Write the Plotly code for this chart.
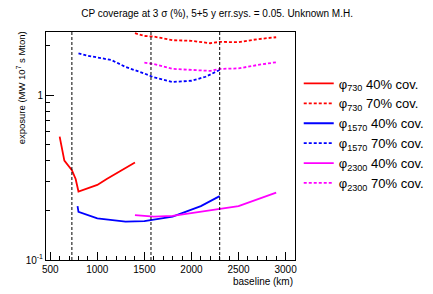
import plotly.graph_objects as go

# ---- data ----
red40_x = [600, 650, 730, 770, 800, 1000, 1100, 1200, 1300, 1400]
red40_y = [0.56, 0.40, 0.35, 0.31, 0.26, 0.285, 0.31, 0.335, 0.362, 0.39]
red70_x = [1400, 1500, 1600, 1800, 2000, 2200, 2300, 2500, 2700, 2900]
red70_y = [2.37, 2.28, 2.26, 2.15, 2.13, 2.06, 2.10, 2.09, 2.18, 2.24]
blue40_x = [790, 800, 1000, 1300, 1500, 1600, 1800, 2100, 2300]
blue40_y = [0.212, 0.196, 0.179, 0.171, 0.172, 0.176, 0.183, 0.212, 0.244]
blue70_x = [800, 900, 1150, 1300, 1500, 1600, 1800, 2000, 2150, 2300]
blue70_y = [1.79, 1.73, 1.63, 1.48, 1.35, 1.28, 1.20, 1.22, 1.29, 1.42]
mag40_x = [1400, 1600, 1800, 2100, 2500, 2900]
mag40_y = [0.187, 0.183, 0.185, 0.196, 0.212, 0.256]
mag70_x = [1500, 1600, 1800, 2000, 2200, 2300, 2500, 2700, 2900]
mag70_y = [1.57, 1.54, 1.44, 1.42, 1.40, 1.44, 1.45, 1.52, 1.58]
vlines_x = [730, 1570, 2300]

x_major = [500, 1000, 1500, 2000, 2500, 3000]
x_minor = [v for v in range(500, 3101, 100)]
y_major = [0.1, 1]
y_major_text = ["10<sup>-1</sup>", "1"]
y_minor = [0.2, 0.3, 0.4, 0.5, 0.6, 0.7, 0.8, 0.9, 2]

series = [
    (red40_x, red40_y, "#ff0000", "solid", "φ<sub>730</sub> 40% cov."),
    (red70_x, red70_y, "#ff0000", "3px,2px", "φ<sub>730</sub> 70% cov."),
    (blue40_x, blue40_y, "#0000ff", "solid", "φ<sub>1570</sub> 40% cov."),
    (blue70_x, blue70_y, "#0000ff", "3px,2px", "φ<sub>1570</sub> 70% cov."),
    (mag40_x, mag40_y, "#ff00ff", "solid", "φ<sub>2300</sub> 40% cov."),
    (mag70_x, mag70_y, "#ff00ff", "3px,2px", "φ<sub>2300</sub> 70% cov."),
]

fig = go.Figure()
for xs, ys, col, dash, name in series:
    fig.add_trace(go.Scatter(x=xs, y=ys, mode="lines", name=name,
                             line=dict(color=col, width=1.8, dash=dash)))

for vx in vlines_x:
    fig.add_shape(type="line", x0=vx, x1=vx, y0=0, y1=1, xref="x", yref="paper",
                  line=dict(color="black", width=1, dash="3px,2px"))

font = "Liberation Sans, Arial, sans-serif"
fig.update_layout(
    width=433, height=294,
    margin=dict(l=38, r=139, t=24, b=42),
    paper_bgcolor="white", plot_bgcolor="white",
    font=dict(family=font, color="black", size=10),
    title=dict(text="CP coverage at 3 σ (%), 5+5 y err.sys. = 0.05. Unknown M.H.",
               x=0.483, xref="container", xanchor="center", y=0.983, yanchor="middle",
               font=dict(size=10, family=font)),
    showlegend=True,
    legend=dict(x=1.015, xanchor="left", y=0.84, yanchor="top",
                font=dict(size=13, family=font), bgcolor="rgba(0,0,0,0)",
                tracegroupgap=0, itemwidth=30),
    xaxis=dict(type="linear", range=[455, 3100], showgrid=False, zeroline=False,
               showline=True, linecolor="black", linewidth=1, mirror=True,
               ticks="inside", ticklen=8, tickcolor="black",
               tickmode="array", tickvals=x_major, ticktext=[str(v) for v in x_major],
               tickfont=dict(size=10),
               minor=dict(tickmode="array", tickvals=x_minor, ticks="inside",
                          ticklen=4, tickcolor="black")),
    yaxis=dict(type="log", range=[-1, 0.382], showgrid=False, zeroline=False,
               showline=True, linecolor="black", linewidth=1, mirror=True,
               ticks="inside", ticklen=8, tickcolor="black",
               tickmode="array", tickvals=y_major, ticktext=y_major_text,
               tickfont=dict(size=10),
               minor=dict(tickmode="array", tickvals=y_minor, ticks="inside",
                          ticklen=4, tickcolor="black")),
)

fig.add_annotation(text="baseline (km)", xref="paper", yref="paper",
                   x=1.0, y=-0.062, xanchor="right", yanchor="top",
                   showarrow=False, font=dict(size=10, family=font))
fig.add_annotation(text="exposure (MW 10<sup>7</sup> s Mton)", xref="paper", yref="paper",
                   x=-0.10, y=1.01, xanchor="center", yanchor="top", textangle=-90,
                   showarrow=False, font=dict(size=9.5, family=font))

fig.write_html("out.html")
